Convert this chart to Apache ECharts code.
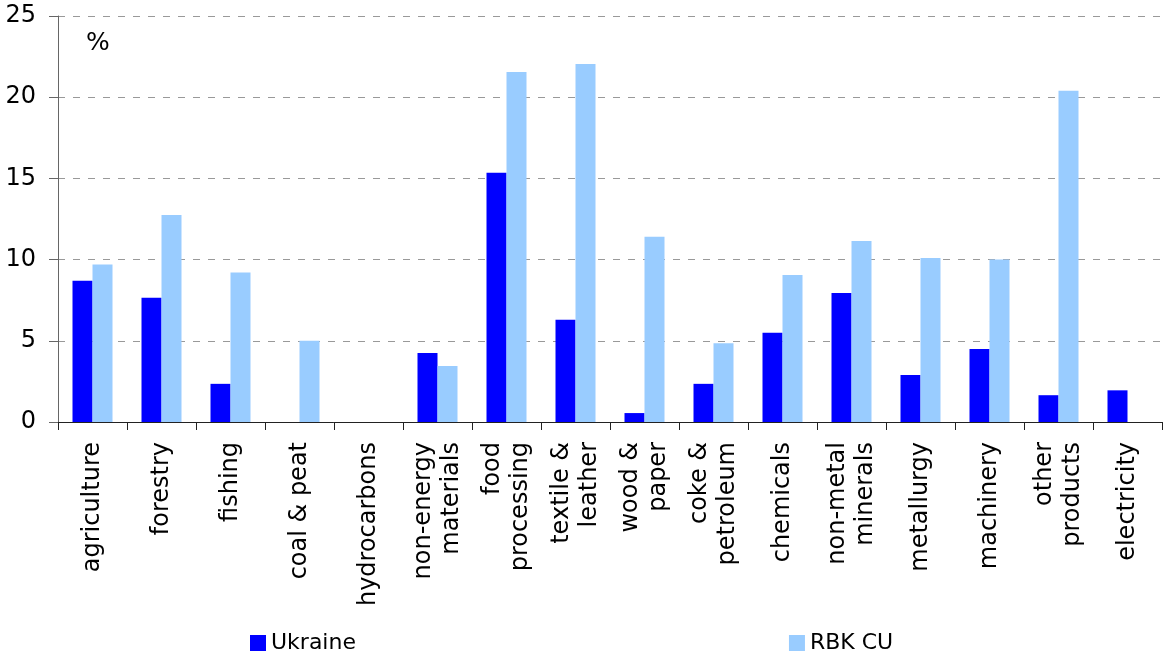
<!DOCTYPE html>
<html><head><meta charset="utf-8">
<script src="https://cdn.jsdelivr.net/npm/echarts@6/dist/echarts.min.js"></script>
<style>html,body{margin:0;padding:0;background:#fff}#c{width:1164px;height:655px}</style>
</head><body><div id="c"></div>
<script>
const categories = ['agriculture','forestry','fishing','coal & peat','hydrocarbons','non-energy\nmaterials','food\nprocessing','textile &\nleather','wood &\npaper','coke &\npetroleum','chemicals','non-metal\nminerals','metallurgy','machinery','other\nproducts','electricity'];
const ukraine = [8.7, 7.65, 2.35, 0, 0, 4.25, 15.35, 6.3, 0.55, 2.35, 5.5, 7.95, 2.9, 4.5, 1.65, 1.95];
const rbkcu = [9.7, 12.75, 9.2, 5.0, 0, 3.45, 21.55, 22.05, 11.4, 4.85, 9.05, 11.15, 10.1, 10.0, 20.4, 0];
const yTicks = [0, 5, 10, 15, 20, 25];
const font = 'DejaVu Sans, Verdana, sans-serif';
const chart = echarts.init(document.getElementById('c'));
chart.setOption({
  animation: false,
  grid: {left: 58, right: 2, top: 16, bottom: 233, containLabel: false},
  legend: {
    data: ['Ukraine', 'RBK CU'],
    top: 627, left: 245, itemGap: 433,
    itemWidth: 16, itemHeight: 16, icon: 'rect',
    textStyle: {fontFamily: font, fontSize: 22, color: '#000'}
  },
  graphic: [{type: 'text', left: 86, top: 31, style: {text: '%', font: '25px ' + font, fill: '#000'}}],
  xAxis: {
    type: 'category', data: categories,
    axisLine: {lineStyle: {color: '#222', width: 1}},
    axisTick: {show: true, length: 8, lineStyle: {color: '#222'}},
    axisLabel: {rotate: 90, fontFamily: font, fontSize: 24, color: '#000', margin: 20, lineHeight: 28, interval: 0}
  },
  yAxis: {
    type: 'value', min: 0, max: 25, interval: 5,
    axisLine: {show: true, lineStyle: {color: '#666'}},
    axisTick: {show: true, length: 9, lineStyle: {color: '#666'}},
    axisLabel: {fontFamily: font, fontSize: 24, color: '#000', margin: 22,
      formatter: v => yTicks.includes(v) ? String(v) : ''},
    splitLine: {show: true, lineStyle: {color: '#999', type: [7, 8], width: 1.2}}
  },
  series: [
    {name: 'Ukraine', type: 'bar', data: ukraine, barWidth: 20, barGap: '0%', itemStyle: {color: '#0000FF'}},
    {name: 'RBK CU', type: 'bar', data: rbkcu, barWidth: 20, itemStyle: {color: '#99CCFF'}}
  ]
});
</script></body></html>
